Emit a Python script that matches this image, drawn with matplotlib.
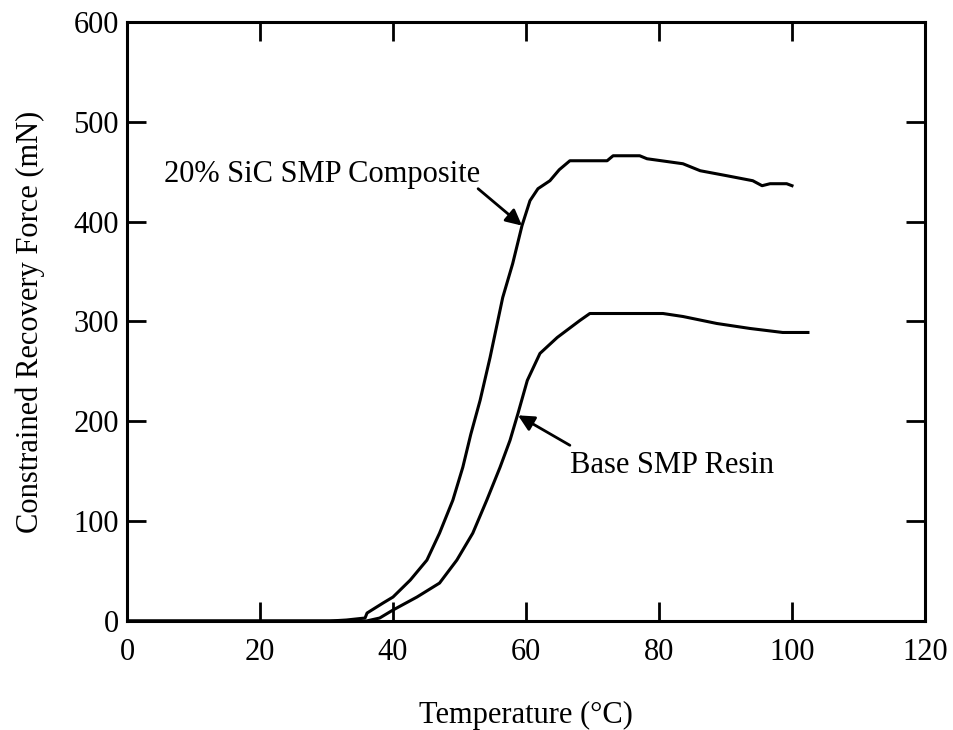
import matplotlib
matplotlib.use("Agg")
import matplotlib.pyplot as plt

plt.rcParams['font.family'] = ['Liberation Serif', 'DejaVu Serif']

# 20% SiC SMP Composite
comp_T = [0, 30.5, 33, 35.8, 36.1, 38.5, 40, 42.6, 45.1, 47, 49, 50.5, 51.7, 53.1, 54.6, 56.5,
          58, 59.4, 60.6, 61.8, 63.6, 65, 66.6, 72.2, 73.1, 77.1, 78.2, 83.6, 86.2, 90.2,
          94.1, 95.5, 96.7, 99.2, 100]
comp_F = [0, 0, 1, 3, 8, 18, 24, 41, 61, 88, 121, 154, 187, 221, 264, 324,
          358, 396, 421, 433, 441, 452, 461, 461, 466, 466, 463, 458, 451, 446,
          441, 436, 438, 438, 436]

# Base SMP Resin
base_T = [0, 36, 38, 40, 43.6, 47, 49.6, 52, 54.1, 56.1, 57.6, 58.8, 60.2, 62.1, 64.7,
          68.1, 69.6, 80.6, 83.6, 88.7, 93.7, 98.6, 102.4]
base_F = [0, 0, 3, 11, 24, 38, 61, 88, 121, 154, 181, 208, 241, 268, 284,
          301, 308, 308, 305, 298, 293, 289, 289]

x_ticks = [0, 20, 40, 60, 80, 100, 120]
y_ticks = [0, 100, 200, 300, 400, 500, 600]

fig = plt.figure(figsize=(9.54, 7.30), dpi=100)
ax = fig.add_axes([0.1331, 0.1493, 0.8365, 0.8206])

ax.plot(comp_T, comp_F, color='black', lw=2.2)
ax.plot(base_T, base_F, color='black', lw=2.2)

ax.set_xlim(0, 120)
ax.set_ylim(0, 600)
ax.set_xticks(x_ticks)
ax.set_yticks(y_ticks)
ax.tick_params(direction='in', length=14, width=2, top=True, right=True, labelsize=22)
ax.tick_params(axis='x', pad=12)
ax.tick_params(axis='y', pad=6)
for s in ax.spines.values():
    s.set_linewidth(2.2)

ax.set_xlabel('Temperature (°C)', fontsize=22, labelpad=25)
ax.set_ylabel('Constrained Recovery Force (mN)', fontsize=22, labelpad=20)

arrow = dict(arrowstyle='-|>', color='black', lw=2, mutation_scale=24, shrinkA=0, shrinkB=0)
ax.text(53.1, 439.5, '20% SiC SMP Composite', fontsize=22, ha='right', va='baseline')
ax.annotate('', xy=(59.4, 396), xytext=(52.8, 433), arrowprops=arrow)
ax.text(66.6, 148, 'Base SMP Resin', fontsize=22, ha='left', va='baseline')
ax.annotate('', xy=(58.8, 206), xytext=(66.6, 176), arrowprops=arrow)

fig.savefig('out.png', dpi=100)
